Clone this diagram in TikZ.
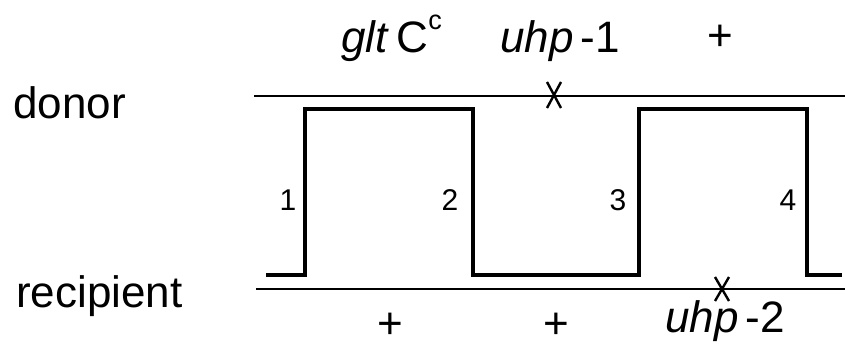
\documentclass[tikz,border=0pt]{standalone}
\usepackage{fontspec}
\setmainfont{Liberation Sans}
\begin{document}
\begin{tikzpicture}[x=1pt,y=-1pt,
  big/.style={font=\fontsize{44}{48}\selectfont, inner sep=0pt},
  small/.style={font=\fontsize{30}{32}\selectfont, inner sep=0pt},
  strand/.style={line width=2.6pt},
  xmark/.style={line width=2.4pt},
  xover/.style={line width=3.8pt, line join=miter}]
\useasboundingbox (0,0) rectangle (845,351);
% strands
\coordinate (dL) at (254,96);
\coordinate (dR) at (845,96);
\coordinate (rL) at (256,289);
\coordinate (rR) at (845,289);
\draw[strand] (dL) -- (dR);
\draw[strand] (rL) -- (rR);
% crossover path
\coordinate (p0) at (266,275);
\coordinate (p1) at (305,275);
\coordinate (p2) at (305,109);
\coordinate (p3) at (473,109);
\coordinate (p4) at (473,275);
\coordinate (p5) at (639,275);
\coordinate (p6) at (639,109);
\coordinate (p7) at (807,109);
\coordinate (p8) at (807,275);
\coordinate (p9) at (842,275);
\draw[xover] (p0) -- (p1) -- (p2) -- (p3) -- (p4) -- (p5) -- (p6) -- (p7) -- (p8) -- (p9);
% mutation marks
\coordinate (m1a) at (547,82);
\coordinate (m1b) at (561,108);
\coordinate (m1c) at (561,82);
\coordinate (m1d) at (547,108);
\draw[xmark] (m1a) -- (m1b) (m1c) -- (m1d);
\coordinate (m2a) at (715,277);
\coordinate (m2b) at (729,301);
\coordinate (m2c) at (729,277);
\coordinate (m2d) at (715,301);
\draw[xmark] (m2a) -- (m2b) (m2c) -- (m2d);
% labels
\node[big, anchor=base west] (donor) at (13,118) {donor};
\node[big, anchor=base west] (recip) at (16,307) {recipient};
\node[big, anchor=base west] (glt) at (341,52) {\textit{glt}\,C\raisebox{23pt}{\fontsize{27}{30}\selectfont c}};
\node[big, anchor=base west] (uhp1) at (500,52) {\textit{uhp}\,-1};
\node[big] (plusT) at (720,38) {+};
\node[big] (plusB1) at (390,326) {+};
\node[big] (plusB2) at (556,326) {+};
\node[big, anchor=base west] (uhp2) at (665,332) {\textit{uhp}\,-2};
\node[small] (n1) at (288,200) {1};
\node[small] (n2) at (450,200) {2};
\node[small] (n3) at (618,200) {3};
\node[small] (n4) at (788,200) {4};
\end{tikzpicture}
\end{document}
